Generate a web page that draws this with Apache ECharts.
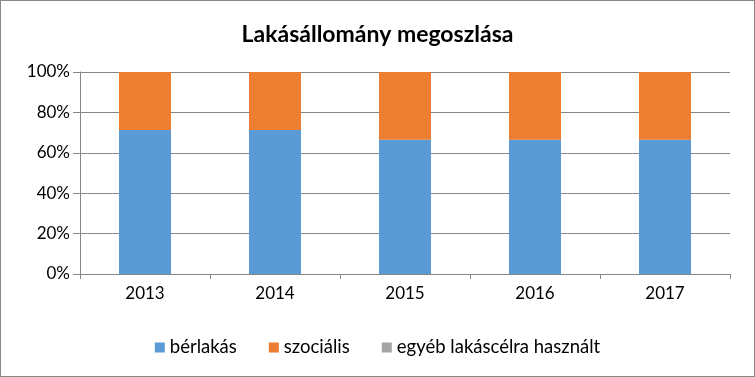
<!DOCTYPE html>
<html>
<head>
<meta charset="utf-8">
<script src="https://cdn.jsdelivr.net/npm/echarts@6/dist/echarts.min.js"></script>
<style>
  html, body { margin: 0; padding: 0; background: #fff; }
  #chart { width: 753px; height: 375px; border: 1px solid #888; }
</style>
</head>
<body>
<div id="chart"></div>
<script>
// years and shares (%)
const years = ['2013', '2014', '2015', '2016', '2017'];
const berlakas = [71.3, 71.3, 66.5, 66.5, 66.5];
const szocialis = [28.7, 28.7, 33.5, 33.5, 33.5];
const egyeb = [0, 0, 0, 0, 0];

const font = 'Lato, "Liberation Sans", sans-serif';

let myChart = echarts.init(document.getElementById('chart'));
let option = {
    animation: false,
    textStyle: { fontFamily: font },
    title: {
        text: 'Lakásállomány megoszlása',
        left: 'center',
        top: 17,
        textStyle: { fontFamily: font, fontSize: 23, fontWeight: 'bold', color: '#000' }
    },
    grid: { left: 79, right: 24, top: 71, bottom: 102 },
    legend: {
        bottom: 14,
        left: 'center',
        itemWidth: 10,
        itemHeight: 10,
        itemGap: 32,
        itemStyle: { borderWidth: 0 },
        icon: 'rect',
        textStyle: { fontFamily: font, fontSize: 18.5, color: '#000' },
        data: ['bérlakás', 'szociális', 'egyéb lakáscélra használt']
    },
    xAxis: {
        type: 'category',
        data: years,
        axisLine: { lineStyle: { color: '#868686' } },
        axisTick: { show: true, length: 5, lineStyle: { color: '#868686' } },
        axisLabel: { fontFamily: font, fontSize: 17, color: '#000', margin: 11 }
    },
    yAxis: {
        type: 'value',
        min: 0,
        max: 100,
        interval: 20,
        axisLine: { show: true, lineStyle: { color: '#868686' } },
        axisTick: { show: true, length: 7, lineStyle: { color: '#868686' } },
        splitLine: { lineStyle: { color: '#868686' } },
        axisLabel: { fontFamily: font, fontSize: 17, color: '#000', margin: 10, formatter: '{value}%' }
    },
    series: [
        { name: 'bérlakás', type: 'bar', stack: 'a', barWidth: '40%', data: berlakas, itemStyle: { color: '#5B9BD5' } },
        { name: 'szociális', type: 'bar', stack: 'a', barWidth: '40%', data: szocialis, itemStyle: { color: '#ED7D31' } },
        { name: 'egyéb lakáscélra használt', type: 'bar', stack: 'a', barWidth: '40%', data: egyeb, itemStyle: { color: '#A5A5A5' } }
    ]
};
myChart.setOption(option);
</script>
</body>
</html>
